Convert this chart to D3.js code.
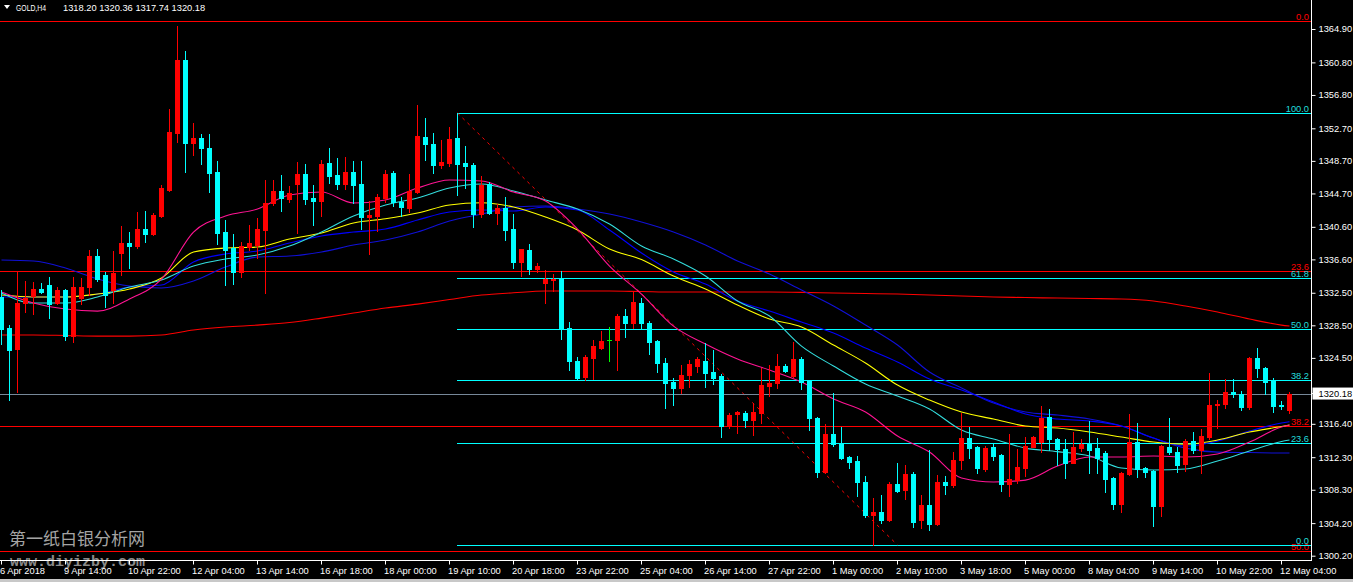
<!DOCTYPE html>
<html><head><meta charset="utf-8">
<script src="https://cdn.jsdelivr.net/npm/d3@7"></script>
<style>html,body{margin:0;padding:0;background:#000;overflow:hidden}svg{display:block}</style>
</head><body>
<svg id="c" width="1353" height="582"></svg>
<script>
// ---------- DATA ----------
const symbolLabel = "GOLD,H4";
const lastOHLC = ["1318.20", "1320.36", "1317.74", "1320.18"];
const lastPrice = 1320.18;

const opens = [1332.07,1328.19,1325.65,1331.33,1332.20,1333.02,1333.51,1331.26,1332.90,1327.24,1331.88,1333.23,1337.11,1334.74,1332.90,1337.40,1338.70,1338.30,1340.39,1339.81,1342.02,1345.18,1352.22,1361.15,1350.92,1351.60,1350.38,1347.43,1340.06,1338.05,1335.14,1338.14,1338.42,1340.27,1343.55,1345.06,1344.07,1345.92,1347.14,1344.23,1343.86,1348.53,1347.02,1345.92,1347.43,1345.92,1341.90,1342.02,1344.16,1347.31,1343.67,1343.00,1344.97,1351.73,1350.83,1348.25,1348.46,1351.53,1348.53,1348.25,1342.23,1345.88,1342.32,1342.93,1340.39,1336.30,1337.81,1335.47,1333.79,1334.12,1334.33,1328.19,1324.17,1322.17,1324.58,1325.81,1326.72,1326.75,1329.70,1328.88,1331.33,1328.88,1326.63,1323.96,1321.63,1320.89,1322.45,1323.60,1324.21,1322.86,1322.33,1316.22,1317.62,1317.75,1316.92,1317.75,1321.10,1321.43,1323.56,1322.37,1324.42,1321.71,1317.17,1310.57,1315.17,1313.97,1312.34,1311.89,1309.27,1305.25,1305.59,1304.64,1309.02,1308.32,1310.29,1304.64,1306.48,1304.15,1309.34,1308.94,1312.01,1314.75,1313.64,1310.90,1313.64,1312.63,1309.02,1309.55,1311.06,1313.64,1314.26,1317.25,1314.59,1313.36,1311.68,1313.52,1313.97,1313.52,1312.91,1309.84,1306.60,1310.29,1314.26,1310.99,1310.66,1306.40,1313.64,1313.03,1311.52,1314.34,1313.24,1314.87,1318.77,1318.85,1320.40,1320.12,1318.48,1324.58,1323.28,1321.75,1318.72,1318.20];
const highs = [1332.90,1328.60,1335.14,1334.00,1333.84,1333.79,1334.45,1333.23,1333.02,1334.45,1334.40,1337.81,1337.93,1335.10,1337.72,1340.76,1340.06,1342.51,1342.60,1342.35,1345.79,1355.13,1365.36,1362.26,1353.45,1352.06,1352.06,1348.74,1341.49,1339.77,1338.83,1340.88,1341.78,1346.41,1346.41,1347.02,1345.71,1348.66,1348.37,1345.79,1348.86,1350.30,1349.15,1349.27,1348.78,1348.74,1343.83,1344.69,1347.64,1347.51,1344.28,1347.14,1355.62,1354.06,1352.22,1351.32,1352.96,1354.64,1350.58,1348.50,1346.90,1346.20,1343.46,1344.36,1342.23,1337.93,1338.51,1336.17,1335.35,1334.86,1335.23,1328.93,1324.63,1324.91,1326.75,1327.86,1328.32,1329.95,1330.56,1332.77,1331.87,1329.12,1326.75,1324.50,1322.12,1323.68,1324.29,1324.70,1326.42,1325.52,1322.60,1317.75,1318.00,1318.07,1319.05,1323.28,1323.68,1325.03,1323.80,1326.54,1324.70,1321.84,1317.25,1316.40,1320.28,1316.03,1312.50,1312.50,1310.04,1307.30,1307.71,1309.30,1311.61,1311.40,1310.50,1307.71,1313.24,1310.17,1310.04,1313.03,1317.82,1316.03,1313.73,1313.73,1314.06,1312.75,1315.20,1313.33,1314.80,1314.96,1318.64,1318.28,1314.70,1314.55,1315.41,1314.55,1316.86,1314.68,1313.10,1309.96,1310.57,1317.66,1316.59,1311.15,1310.78,1313.85,1317.13,1313.57,1314.59,1315.41,1315.78,1322.73,1319.38,1321.92,1321.92,1320.49,1324.70,1325.81,1323.44,1322.12,1319.26,1320.36];
const lows = [1326.26,1319.38,1320.40,1330.16,1329.95,1332.49,1329.49,1331.17,1326.80,1326.54,1331.14,1332.28,1334.00,1330.85,1331.26,1334.74,1335.63,1338.05,1338.83,1339.60,1341.86,1345.06,1351.11,1347.43,1349.48,1348.37,1344.97,1338.55,1333.51,1333.59,1334.53,1337.81,1336.83,1332.56,1343.34,1342.64,1343.71,1339.93,1343.46,1340.88,1342.02,1346.00,1345.27,1345.27,1343.55,1340.39,1337.32,1340.18,1343.74,1343.21,1342.02,1342.44,1344.77,1348.86,1347.31,1347.84,1348.17,1344.57,1345.39,1340.67,1341.90,1342.20,1341.00,1339.04,1335.56,1334.65,1334.86,1335.07,1331.33,1332.77,1326.88,1323.07,1321.84,1321.84,1321.92,1325.61,1324.21,1323.07,1327.16,1328.19,1328.19,1325.03,1322.78,1318.44,1318.77,1320.28,1320.94,1322.86,1321.01,1321.35,1314.87,1315.90,1315.29,1316.03,1315.08,1316.59,1319.91,1320.82,1322.82,1322.17,1320.70,1315.65,1309.89,1310.38,1313.73,1312.09,1310.99,1307.59,1305.04,1301.57,1304.31,1304.50,1308.11,1307.22,1303.82,1303.62,1303.41,1304.02,1307.83,1308.73,1310.90,1312.22,1310.45,1310.66,1312.01,1308.24,1307.62,1309.22,1310.08,1313.60,1313.03,1313.24,1311.40,1309.84,1311.64,1313.11,1310.38,1310.38,1308.04,1305.95,1305.66,1310.17,1309.89,1309.89,1303.94,1305.17,1312.75,1310.57,1310.66,1312.87,1310.45,1314.59,1315.94,1318.44,1319.71,1318.15,1318.34,1322.17,1320.12,1317.94,1318.28,1317.74];
const closes = [1328.10,1325.52,1331.33,1331.95,1333.02,1332.69,1331.14,1332.90,1327.24,1333.30,1333.30,1337.11,1334.25,1332.28,1335.02,1338.70,1338.30,1340.39,1339.81,1342.11,1345.46,1352.34,1361.15,1350.92,1351.60,1350.38,1347.31,1339.93,1337.81,1335.14,1338.30,1338.63,1340.39,1343.62,1345.06,1344.23,1344.85,1347.14,1344.07,1343.86,1348.37,1346.90,1345.92,1347.43,1345.79,1341.83,1342.11,1344.28,1347.14,1343.67,1343.05,1345.09,1351.81,1350.79,1348.25,1348.66,1351.44,1348.37,1348.17,1342.23,1345.79,1342.32,1342.93,1340.27,1336.30,1337.89,1335.47,1335.88,1334.25,1334.25,1328.10,1324.21,1322.12,1324.63,1326.01,1326.67,1326.72,1329.70,1328.88,1331.46,1328.80,1326.54,1323.96,1321.51,1320.89,1322.45,1323.80,1324.38,1322.74,1322.12,1316.22,1317.54,1317.87,1316.92,1317.87,1321.22,1321.51,1323.56,1322.98,1324.42,1321.59,1317.21,1310.57,1315.17,1313.94,1312.29,1311.80,1309.27,1305.25,1305.59,1304.64,1309.06,1308.20,1310.29,1304.43,1306.48,1304.15,1309.34,1308.94,1312.01,1314.75,1313.52,1311.06,1313.52,1312.54,1309.02,1309.64,1311.19,1313.73,1314.80,1317.13,1314.55,1313.36,1311.68,1313.57,1313.97,1313.24,1312.29,1309.68,1306.60,1310.38,1314.26,1310.87,1310.57,1306.40,1313.73,1313.03,1311.40,1314.34,1313.24,1315.00,1318.77,1318.89,1320.40,1320.12,1318.48,1324.58,1323.28,1321.63,1318.68,1318.68,1320.18];

const timeLabels = ["6 Apr 2018","9 Apr 14:00","10 Apr 22:00","12 Apr 04:00","13 Apr 14:00","16 Apr 18:00","18 Apr 00:00","19 Apr 10:00","20 Apr 18:00","23 Apr 22:00","25 Apr 04:00","26 Apr 14:00","27 Apr 22:00","1 May 00:00","2 May 10:00","3 May 18:00","5 May 00:00","8 May 04:00","9 May 14:00","10 May 22:00","12 May 04:00"];
const timeLabelBars = [0,8,16,24,32,40,48,56,64,72,80,88,96,104,112,120,128,136,144,152,160];
const priceTicks = [1364.90,1360.80,1356.80,1352.70,1348.70,1344.70,1340.60,1336.60,1332.50,1328.50,1324.50,1316.40,1312.30,1308.30,1304.20,1300.20];

// moving averages, read at every 4th bar
const maBars = [0,4,8,12,16,20,24,28,32,36,40,44,48,52,56,60,64,68,72,76,80,84,88,92,96,100,104,108,112,116,120,124,128,132,136,140,144,148,152,156,160,161];
const maPink = [1332.65,1331.30,1330.56,1330.31,1331.79,1334.25,1340.02,1341.98,1342.85,1344.57,1344.93,1343.58,1343.95,1345.43,1346.41,1346.29,1344.93,1343.83,1340.39,1335.84,1332.40,1328.47,1326.26,1324.42,1323.07,1321.59,1319.51,1317.91,1314.96,1312.99,1309.80,1309.31,1309.55,1311.27,1312.38,1312.38,1312.50,1312.38,1312.75,1314.22,1316.07,1316.31];
const maCyan = [1332.53,1331.30,1331.30,1332.04,1333.26,1334.12,1335.84,1336.70,1337.20,1338.30,1340.02,1341.98,1343.34,1344.20,1345.43,1345.92,1345.06,1343.95,1342.85,1341.00,1338.30,1336.70,1334.61,1331.54,1329.70,1326.01,1323.56,1321.35,1319.87,1318.28,1315.69,1314.59,1313.48,1313.05,1312.50,1311.03,1310.78,1310.91,1311.89,1313.12,1314.28,1314.47];
const maYellow = [1332.28,1332.04,1332.04,1332.40,1333.02,1334.37,1337.56,1338.05,1338.18,1339.16,1339.90,1341.12,1341.65,1342.35,1343.34,1343.62,1343.09,1341.86,1340.27,1337.93,1336.64,1334.61,1333.02,1331.05,1329.33,1328.35,1326.14,1323.93,1321.22,1319.38,1317.91,1317.05,1316.19,1315.94,1315.45,1314.84,1314.22,1313.97,1314.47,1315.45,1316.13,1316.31];
const maBlue = [1332.04,1332.04,1332.04,1332.40,1333.26,1333.51,1336.34,1337.32,1337.69,1338.67,1339.53,1340.02,1340.39,1341.49,1342.48,1342.72,1342.60,1343.09,1342.72,1340.27,1337.44,1335.11,1333.63,1331.54,1330.31,1328.96,1327.61,1325.77,1324.05,1321.96,1320.61,1319.14,1317.66,1317.05,1316.80,1316.19,1314.71,1313.73,1314.35,1315.57,1316.56,1316.72];
const maNavy = [1336.58,1336.46,1335.60,1334.25,1333.39,1333.14,1334.00,1335.72,1336.95,1337.07,1337.56,1338.42,1339.04,1340.02,1341.37,1342.23,1343.09,1343.22,1342.85,1342.23,1341.25,1340.02,1338.42,1336.46,1334.86,1332.90,1330.93,1328.59,1326.14,1322.82,1320.86,1319.01,1317.91,1317.54,1317.05,1316.19,1314.71,1313.48,1312.99,1312.93,1312.87,1312.87];
const maRed = [1327.37,1327.37,1327.31,1327.24,1327.24,1327.37,1327.98,1328.35,1328.59,1328.90,1329.45,1330.07,1330.68,1331.17,1331.73,1332.28,1332.56,1332.77,1332.77,1332.77,1332.71,1332.65,1332.65,1332.65,1332.65,1332.61,1332.53,1332.47,1332.40,1332.28,1332.16,1332.04,1331.97,1331.91,1331.85,1331.79,1331.54,1330.93,1330.19,1329.33,1328.59,1328.47];

// Fibonacci objects
const fibLevels = [0, 23.6, 38.2, 50, 61.8, 100];
const redFib = {p0: 1365.94, p100: 1235.84};            // full-width
const cyanFib = {bar0: 112, p0: 1301.57, bar100: 57, p100: 1354.64};

// ---------- DRAW ----------
const W = 1353, H = 582, plotR = 1311, plotB = 560;
const FONT = "'Liberation Sans', Arial, sans-serif";
const FS = 9.3;
const svg = d3.select("#c");
svg.append("rect").attr("width", W).attr("height", H).attr("fill", "#000");

const x = d3.scaleLinear().domain([0, 161]).range([1.5, 1289.5]);
const y = d3.scaleLinear().domain([1300.20, 1364.90]).range([556.2, 29.5]);

svg.append("defs").append("clipPath").attr("id", "plot")
  .append("rect").attr("x", 0).attr("y", 0).attr("width", plotR).attr("height", plotB);

// watermark
svg.append("text").attr("x", 9).attr("y", 545)
  .attr("font-family", "'Noto Sans CJK SC', sans-serif").attr("font-size", 17)
  .attr("fill", "#a4a4a4").text("第一纸白银分析网");
svg.append("text").attr("x", 10).attr("y", 566)
  .attr("font-family", "'Liberation Mono', monospace").attr("font-size", 15).attr("font-weight", "bold")
  .attr("fill", "#8a8a8a").text("www.diyizby.com");

const plot = svg.append("g").attr("clip-path", "url(#plot)");
const crisp = v => Math.round(v) + 0.5;
const visible = p => y(p) >= 0 && y(p) <= plotB;

// red fib (full width)
const redG = plot.append("g");
fibLevels.forEach(l => {
  const p = redFib.p0 + (redFib.p100 - redFib.p0) * l / 100;
  if (!visible(p)) return;
  const yy = crisp(y(p));
  redG.append("line").attr("x1", 0).attr("x2", plotR).attr("y1", yy).attr("y2", yy)
    .attr("stroke", "#ff0000").attr("stroke-width", 1);
  redG.append("text").attr("x", 1309).attr("y", yy - 2).attr("text-anchor", "end")
    .attr("font-family", FONT).attr("font-size", FS).attr("fill", "#ff0000").text(l.toFixed(1));
});

// cyan fib
const cyG = plot.append("g");
fibLevels.forEach(l => {
  const p = cyanFib.p0 + (cyanFib.p100 - cyanFib.p0) * l / 100;
  if (!visible(p)) return;
  const yy = crisp(y(p));
  cyG.append("line").attr("x1", x(cyanFib.bar100) - 0.5).attr("x2", plotR).attr("y1", yy).attr("y2", yy)
    .attr("stroke", "#00ffff").attr("stroke-width", 1);
  cyG.append("text").attr("x", 1309).attr("y", yy - 2).attr("text-anchor", "end")
    .attr("font-family", FONT).attr("font-size", FS).attr("fill", "#22dddd").text(l.toFixed(1));
});
// fib trend line (dotted)
plot.append("line")
  .attr("x1", x(cyanFib.bar100)).attr("y1", y(cyanFib.p100))
  .attr("x2", x(cyanFib.bar0)).attr("y2", y(cyanFib.p0))
  .attr("stroke", "#ff0000").attr("stroke-width", 1).attr("stroke-dasharray", "3,4");

// bid line
plot.append("line").attr("x1", 0).attr("x2", plotR)
  .attr("y1", crisp(y(lastPrice))).attr("y2", crisp(y(lastPrice)))
  .attr("stroke", "#778899").attr("stroke-width", 1);

// moving averages
const maLine = d3.line().x((d, i) => x(maBars[i])).y(d => y(d)).curve(d3.curveMonotoneX);
[[maRed, "#ff0000"], [maNavy, "#1010d8"], [maBlue, "#0000ff"], [maYellow, "#ffff00"], [maCyan, "#33dddd"], [maPink, "#ff1493"]]
  .forEach(([arr, col]) => {
    plot.append("path").datum(arr).attr("d", maLine).attr("fill", "none")
      .attr("stroke", col).attr("stroke-width", 1.1);
  });

// candles
const candles = plot.append("g").attr("shape-rendering", "crispEdges");
opens.forEach((o, i) => {
  const c = closes[i], hi = highs[i], lo = lows[i];
  const col = c > o ? "#ff0000" : (c < o ? "#00ffff" : "#00ff00");
  const cx = x(i);
  candles.append("line").attr("x1", cx).attr("x2", cx)
    .attr("y1", Math.round(y(hi))).attr("y2", Math.round(y(lo)) + 1)
    .attr("stroke", col).attr("stroke-width", 1);
  const yt = Math.round(y(Math.max(o, c))), yb = Math.round(y(Math.min(o, c)));
  if (c === o) {
    candles.append("line").attr("x1", cx - 2.5).attr("x2", cx + 2.5).attr("y1", yt + 0.5).attr("y2", yt + 0.5)
      .attr("stroke", col).attr("stroke-width", 1);
  } else {
    candles.append("rect").attr("x", cx - 2.5).attr("y", yt).attr("width", 5)
      .attr("height", Math.max(1, yb - yt + 1)).attr("fill", col);
  }
});

// price axis
const yAxis = d3.axisRight(y).tickValues(priceTicks.concat([lastPrice]))
  .tickFormat(d => d.toFixed(2)).tickSize(4).tickPadding(3).offset(0);
const ya = svg.append("g").attr("transform", `translate(${plotR + 0.5},0)`).call(yAxis);
ya.select(".domain").remove();
ya.selectAll("line").attr("stroke", "#fff");
ya.selectAll("text").attr("fill", "#fff").attr("font-family", FONT).attr("font-size", FS);
svg.append("line").attr("x1", plotR + 0.5).attr("x2", plotR + 0.5).attr("y1", 0).attr("y2", plotB + 1)
  .attr("stroke", "#fff");
// current price box
const lp = ya.selectAll(".tick").filter(d => d === lastPrice);
lp.insert("rect", "text").attr("x", 1).attr("y", -6).attr("width", 42).attr("height", 12).attr("fill", "#fff");
lp.select("text").attr("fill", "#000");

// time axis
const xAxis = d3.axisBottom(x).tickValues(timeLabelBars)
  .tickFormat((d, i) => timeLabels[i]).tickSize(4).tickPadding(3).offset(0);
const xa = svg.append("g").attr("transform", `translate(0,${plotB + 0.5})`).call(xAxis);
xa.select(".domain").remove();
xa.selectAll("line").attr("stroke", "#fff");
xa.selectAll("text").attr("fill", "#fff").attr("font-family", FONT).attr("font-size", FS)
  .attr("text-anchor", "start").attr("x", -1.5);
svg.append("line").attr("x1", 0).attr("x2", plotR + 1).attr("y1", plotB + 0.5).attr("y2", plotB + 0.5)
  .attr("stroke", "#fff");

// bottom strip
svg.append("rect").attr("x", 0).attr("y", 579).attr("width", W).attr("height", 3).attr("fill", "#c8c8c8");

// header
svg.append("path").attr("d", "M4,5 L10,5 L7,9 Z").attr("fill", "#fff");
svg.append("text").attr("x", 16).attr("y", 10.5).attr("font-family", FONT).attr("font-size", FS)
  .attr("fill", "#fff").attr("textLength", 30).attr("lengthAdjust", "spacingAndGlyphs").text(symbolLabel);
svg.append("text").attr("x", 63).attr("y", 10.5).attr("font-family", FONT).attr("font-size", FS)
  .attr("fill", "#fff").attr("xml:space", "preserve").text(lastOHLC.join(" "));
</script>
</body></html>
